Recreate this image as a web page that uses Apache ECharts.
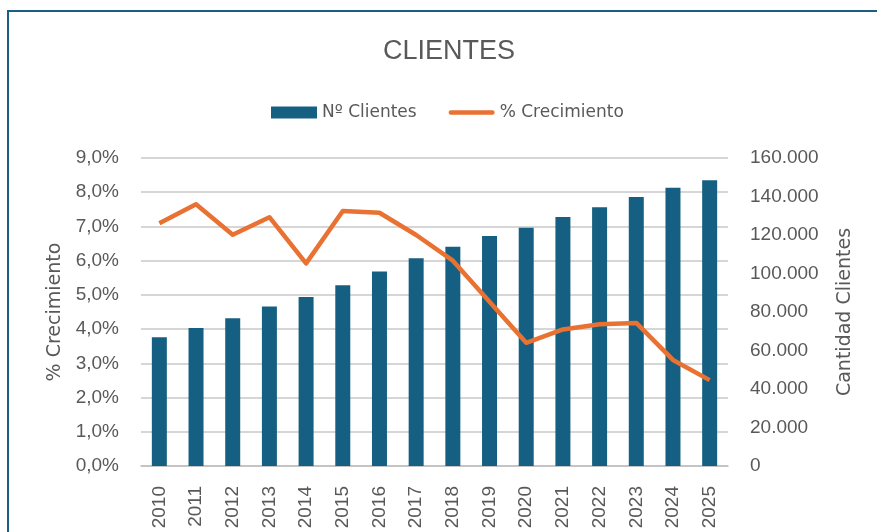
<!DOCTYPE html>
<html>
<head>
<meta charset="utf-8">
<title>CLIENTES</title>
<script src="https://cdn.jsdelivr.net/npm/echarts@6/dist/echarts.min.js"></script>
<style>
  html, body { margin: 0; padding: 0; background: #fff; }
  #main { width: 877px; height: 532px; }
</style>
</head>
<body>
<div id="main"></div>
<script>
var years = ['2010', '2011', '2012', '2013', '2014', '2015', '2016', '2017',
             '2018', '2019', '2020', '2021', '2022', '2023', '2024', '2025'];
// Nº Clientes (eje derecho)
var clientes = [66900, 71700, 76700, 82900, 87800, 93900, 101100, 107900,
                113900, 119500, 123800, 129300, 134400, 139700, 144600, 148400];
// % Crecimiento (eje izquierdo)
var crecimiento = [0.0709, 0.0765, 0.0676, 0.0727, 0.0592, 0.0745, 0.0740, 0.0675,
                   0.0600, 0.0480, 0.0360, 0.0399, 0.0414, 0.0418, 0.0310, 0.0251];

var gris = '#595959';
var myChart = echarts.init(document.getElementById('main'));

myChart.setOption({
    animation: false,
    backgroundColor: '#fff',
    title: {
        text: 'CLIENTES',
        left: 383,
        top: 38,
        padding: 0,
        textStyle: {
            color: gris,
            fontFamily: 'Liberation Sans',
            fontWeight: 'normal',
            fontSize: 27
        }
    },
    legend: {
        left: 266,
        top: 99,
        itemWidth: 46,
        itemHeight: 12,
        itemGap: 32,
        symbolKeepAspect: true,
        data: [
            { name: 'Nº Clientes', icon: 'rect' },
            // icono de línea gruesa como en Excel
            { name: '% Crecimiento', icon: 'path://M2.5,0 L49.5,0 A2.5,2.5 0 0 1 49.5,5 L2.5,5 A2.5,2.5 0 0 1 2.5,0 Z' }
        ],
        textStyle: {
            color: gris,
            fontFamily: 'DejaVu Sans',
            fontSize: 17
        }
    },
    grid: {
        left: 141,
        right: 149,
        top: 158,
        bottom: 66
    },
    // marco azul del gráfico
    graphic: [{
        type: 'rect',
        silent: true,
        shape: { x: 8, y: 11, width: 950, height: 600 },
        style: { fill: 'none', stroke: '#1B5E84', lineWidth: 2 }
    }],
    xAxis: {
        type: 'category',
        data: years,
        axisLine: { lineStyle: { color: '#BFBFBF', width: 1.5 } },
        axisTick: { show: false },
        axisLabel: {
            rotate: 90,
            margin: 20,
            color: gris,
            fontFamily: 'Liberation Sans',
            fontSize: 19
        }
    },
    yAxis: [{
        type: 'value',
        min: 0,
        max: 0.09,
        interval: 0.01,
        name: '% Crecimiento',
        nameLocation: 'middle',
        nameRotate: 90,
        nameGap: 75,
        nameTextStyle: { color: gris, fontFamily: 'DejaVu Sans', fontSize: 19 },
        axisLine: { show: false },
        axisTick: { show: false },
        axisLabel: {
            margin: 22,
            color: gris,
            fontFamily: 'Liberation Sans',
            fontSize: 19,
            formatter: function (v) {
                return (v * 100).toFixed(1).replace('.', ',') + '%';
            }
        },
        splitLine: { lineStyle: { color: '#C8C8C8', width: 1.5 } }
    }, {
        type: 'value',
        min: 0,
        max: 160000,
        interval: 20000,
        name: 'Cantidad Clientes',
        nameLocation: 'middle',
        nameRotate: 90,
        nameGap: 108,
        nameTextStyle: { color: gris, fontFamily: 'DejaVu Sans', fontSize: 19 },
        axisLine: { show: false },
        axisTick: { show: false },
        axisLabel: {
            margin: 22,
            color: gris,
            fontFamily: 'Liberation Sans',
            fontSize: 19,
            formatter: function (v) {
                return String(v).replace(/\B(?=(\d{3})+(?!\d))/g, '.');
            }
        },
        splitLine: { show: false }
    }],
    series: [{
        name: 'Nº Clientes',
        type: 'bar',
        yAxisIndex: 1,
        barWidth: 15,
        itemStyle: { color: '#156082' },
        data: clientes
    }, {
        name: '% Crecimiento',
        type: 'line',
        yAxisIndex: 0,
        symbol: 'none',
        lineStyle: { color: '#E97132', width: 4.5, join: 'round' },
        itemStyle: { color: '#E97132' },
        data: crecimiento
    }]
});
</script>
</body>
</html>
